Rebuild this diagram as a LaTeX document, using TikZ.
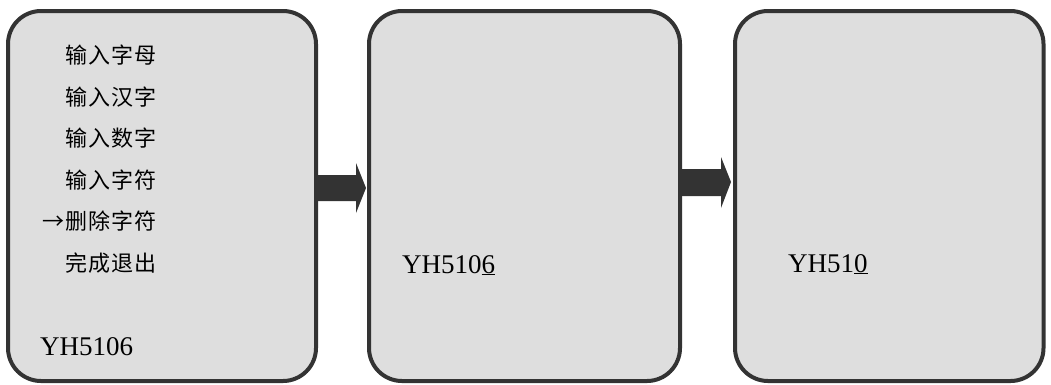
\documentclass[tikz,border=0pt]{standalone}
\usepackage{fontspec}
\setmainfont{Liberation Serif}
\newfontfamily\cjk[LetterSpace=5]{Noto Sans CJK SC}
\usetikzlibrary{calc}
\definecolor{boxfill}{HTML}{DEDEDE}
\definecolor{edge}{HTML}{333333}
\tikzset{
  screen/.style={draw=edge, fill=boxfill, line width=4pt, rounded corners=33pt,
    minimum height=370pt, inner sep=0pt},
  blockarrow/.style={fill=edge, draw=none},
  menuline/.style={anchor=east, inner sep=0pt, font=\cjk\fontsize{22}{22}\selectfont},
  code/.style={anchor=base west, inner sep=0pt, font=\fontsize{27}{27}\selectfont}
}
\begin{document}
\begin{tikzpicture}[x=1pt,y=-1pt]
\useasboundingbox (0,0) rectangle (1051,384);
\node[screen, minimum width=308pt] (b1) at (162,196) {};
\node[screen, minimum width=311pt] (b2) at (524.5,196) {};
\node[screen, minimum width=308.5pt] (b3) at (889.25,196) {};
% block arrows
\fill[blockarrow] ($(b1.east)+(0,-21)$) -- ($(b1.east)+(38,-21)$) -- ($(b1.east)+(38,-33)$)
  -- ($(b2.west)+(-1,-8)$) -- ($(b1.east)+(38,17)$) -- ($(b1.east)+(38,5)$)
  -- ($(b1.east)+(0,5)$) -- cycle;
\fill[blockarrow] ($(b2.east)+(0,-27)$) -- ($(b2.east)+(39,-27)$) -- ($(b2.east)+(39,-39)$)
  -- ($(b3.west)+(-2,-14)$) -- ($(b2.east)+(39,12)$) -- ($(b2.east)+(39,0)$)
  -- ($(b2.east)+(0,0)$) -- cycle;
% menu
\node[menuline] (m1) at (157,55) {输入字母};
\node[menuline] (m2) at (157,97) {输入汉字};
\node[menuline] (m3) at (157,138) {输入数字};
\node[menuline] (m4) at (157,180) {输入字符};
\node[menuline] (m5) at (157,221) {→删除字符};
\node[menuline] (m6) at (157,263) {完成退出};
% codes
\node[code] (c1) at (40,355) {YH5106};
\node[code] (c2) at (402,273) {YH510\underline{6}};
\node[code] (c3) at (788,272) {YH51\underline{0}};
\end{tikzpicture}
\end{document}
